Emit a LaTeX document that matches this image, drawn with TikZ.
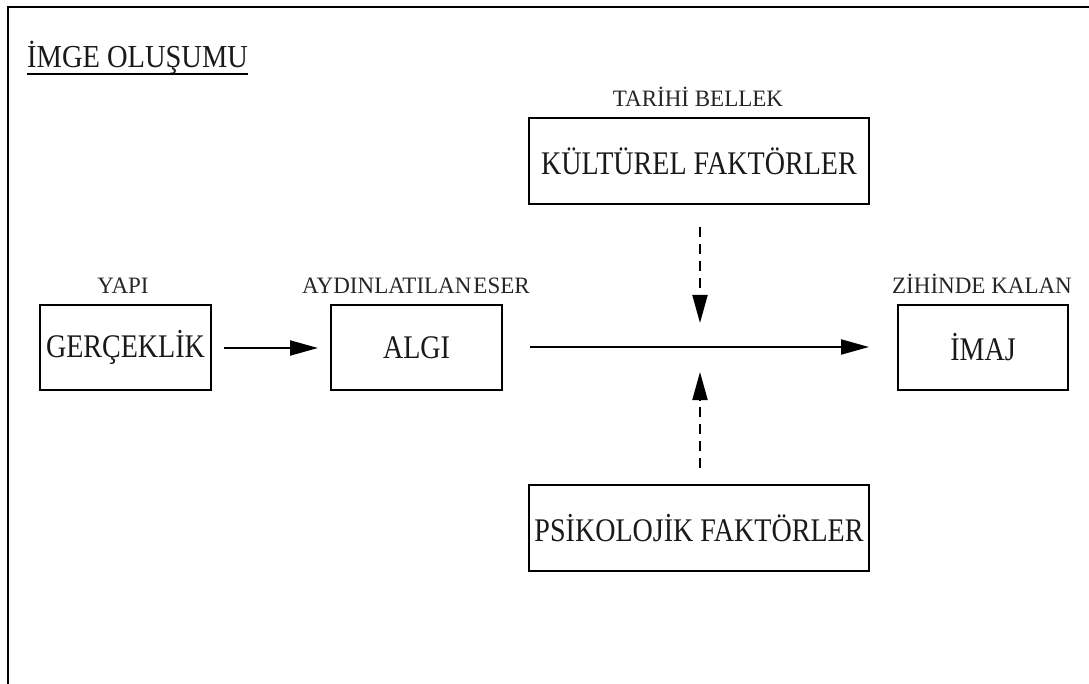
\documentclass[tikz,border=0pt]{standalone}
\usepackage{fontspec}
\setmainfont{Liberation Serif}
\newfontfamily\boxfont[FakeStretch=0.85]{Liberation Serif}
\newfontfamily\titlefont[FakeStretch=0.89]{Liberation Serif}
\newfontfamily\labfont[FakeStretch=0.98]{Liberation Serif}
\usetikzlibrary{arrows.meta}
\begin{document}
\begin{tikzpicture}[x=1pt,y=-1pt,
  boxnode/.style={draw,line width=2pt,inner sep=0pt,font=\boxfont\fontsize{33}{36}\selectfont,text=black!90},
  labnode/.style={inner sep=0pt,font=\labfont\fontsize{23.5}{26}\selectfont,text=black!85},
  conn/.style={line width=2pt,-{Triangle[length=28pt,width=15pt]}},
  dconn/.style={conn,dash pattern=on 10pt off 7pt}]
\useasboundingbox (0,0) rectangle (1089,684);
\fill[white] (0,0) rectangle (1089,684);
\draw[line width=2pt] (7.5,684) -- (7.5,7.5) -- (1089,7.5);
\node[anchor=base west,inner sep=0pt,font=\titlefont\fontsize{32}{36}\selectfont,text=black!90] (title) at (27,68) {İMGE OLUŞUMU};
\draw[line width=1.6pt] (title.base west) ++(0,6) -- ([yshift=-6pt]title.base east);
\node[boxnode,minimum width=171pt,minimum height=85pt] (ger) at (125.5,347.5) {GERÇEKLİK};
\node[boxnode,minimum width=171pt,minimum height=85pt] (algi) at (416.5,347.5) {ALGI};
\node[boxnode,minimum width=340pt,minimum height=86pt] (kul) at (699,161) {KÜLTÜREL FAKTÖRLER};
\node[boxnode,minimum width=340pt,minimum height=86pt] (psi) at (699,528) {PSİKOLOJİK FAKTÖRLER};
\node[boxnode,minimum width=170pt,minimum height=85pt] (imaj) at (983,347.5) {İMAJ};
\node[labnode,anchor=base] (yapi) at (123,294) {YAPI};
\node[labnode,anchor=base] (ayd) at (416,294) {AYDINLATILAN\hspace{2pt}ESER};
\node[labnode,anchor=base] (tar) at (698,107) {TARİHİ BELLEK};
\node[labnode,anchor=base] (zih) at (982,294) {ZİHİNDE KALAN};
\coordinate (a1s) at (224,348);
\coordinate (a1e) at (318,348);
\coordinate (a2s) at (530,347);
\coordinate (a2e) at (869,347);
\coordinate (dds) at (700,227);
\coordinate (dde) at (700,323);
\coordinate (dus) at (700,468);
\coordinate (due) at (700,372);
\draw[conn] (a1s) -- (a1e);
\draw[conn] (a2s) -- (a2e);
\draw[dconn] (dds) -- (dde);
\draw[dconn] (dus) -- (due);
\end{tikzpicture}
\end{document}
